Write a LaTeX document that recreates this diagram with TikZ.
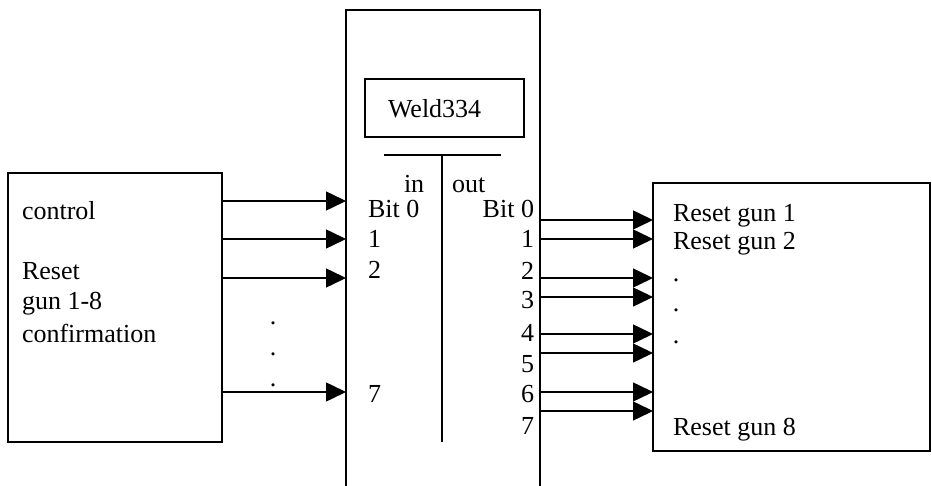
\documentclass[tikz,border=0pt]{standalone}
\usepackage{fontspec}
\setmainfont{Liberation Serif}
\usetikzlibrary{arrows.meta}
\begin{document}
\begin{tikzpicture}[x=1pt,y=-1pt,
  line width=1.5pt,
  txt/.style={inner sep=0pt,outer sep=0pt,font=\fontsize{26}{31}\selectfont},
  box/.style={draw,inner sep=0pt,outer sep=0pt},
  ghost/.style={inner sep=0pt,outer sep=0pt},
  arr/.style={-{Triangle[length=20pt,width=19pt]},line width=1.5pt}]
\useasboundingbox (0,0) rectangle (932,486);
% boxes
\node[box,minimum width=214pt,minimum height=269pt] (L) at (115,307.5) {};
\node[ghost,minimum width=194pt,minimum height=490pt] (M) at (443,255) {};
\draw (M.south west) -- (M.north west) -- (M.north east) -- (M.south east);
\node[box,minimum width=277pt,minimum height=268pt] (R) at (791.5,317) {};
\node[box,minimum width=159pt,minimum height=58pt] (W) at (444.5,108) {};
\node[txt,anchor=base west] (wt) at (388,118) {Weld334};
% T
\coordinate (tl) at (384,155);
\coordinate (tr) at (501,155);
\coordinate (tm) at (442,155);
\coordinate (tb) at (442,442);
\draw (tl) -- (tr);
\draw (tm) -- (tb);
\node[txt,anchor=base west] (in) at (404,193) {in};
\node[txt,anchor=base west] (out) at (452,193) {out};
% left box text
\node[txt,anchor=base west] (c1) at (22,220) {control};
\node[txt,anchor=base west] (c2) at (22,280) {Reset};
\node[txt,anchor=base west] (c3) at (22,310) {gun 1-8};
\node[txt,anchor=base west] (c4) at (22,343) {confirmation};
\node[txt] (d1) at (273,323) {.};
\node[txt] (d2) at (273,354) {.};
\node[txt] (d3) at (273,385) {.};
% input labels
\node[txt,anchor=base west] (i0) at (368,218) {Bit 0};
\node[txt,anchor=base west] (i1) at (368,248) {1};
\node[txt,anchor=base west] (i2) at (368,279) {2};
\node[txt,anchor=base west] (i7) at (368,402) {7};
% output labels
\node[txt,anchor=base east] (o0) at (534,218) {Bit 0};
\node[txt,anchor=base east] (o1) at (534,248) {1};
\node[txt,anchor=base east] (o2) at (534,280) {2};
\node[txt,anchor=base east] (o3) at (534,309) {3};
\node[txt,anchor=base east] (o4) at (534,342) {4};
\node[txt,anchor=base east] (o5) at (534,373) {5};
\node[txt,anchor=base east] (o6) at (534,402) {6};
\node[txt,anchor=base east] (o7) at (534,434) {7};
% right box text
\node[txt,anchor=base west] (r1) at (673,222) {Reset gun 1};
\node[txt,anchor=base west] (r2) at (673,250) {Reset gun 2};
\node[txt] (e1) at (676,280) {.};
\node[txt] (e2) at (676,310) {.};
\node[txt] (e3) at (676,342) {.};
\node[txt,anchor=base west] (r8) at (673,435) {Reset gun 8};
% input arrows
\coordinate (a0) at (0,201);
\coordinate (a1) at (0,239);
\coordinate (a2) at (0,278);
\coordinate (a7) at (0,392);
\foreach \c in {a0,a1,a2,a7} \draw[arr] (L.east |- \c) -- (M.west |- \c);
% output arrows
\coordinate (b0) at (0,220);
\coordinate (b1) at (0,239);
\coordinate (b2) at (0,278);
\coordinate (b3) at (0,297);
\coordinate (b4) at (0,334);
\coordinate (b5) at (0,353);
\coordinate (b6) at (0,392);
\coordinate (b7) at (0,411);
\foreach \c in {b0,b1,b2,b3,b4,b5,b6,b7} \draw[arr] (M.east |- \c) -- (R.west |- \c);
\end{tikzpicture}
\end{document}
